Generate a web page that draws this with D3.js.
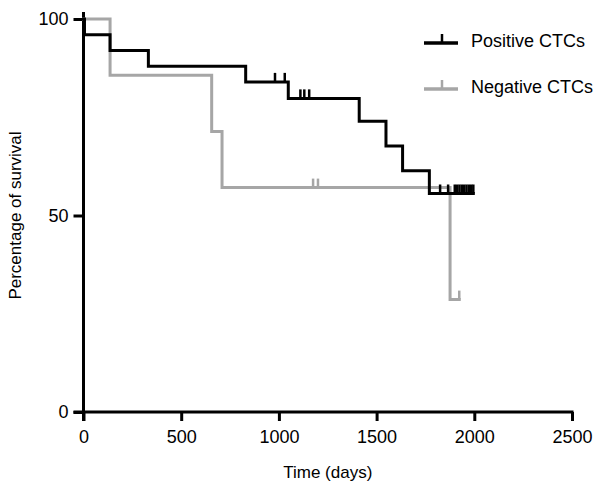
<!DOCTYPE html>
<html>
<head>
<meta charset="utf-8">
<script src="https://cdn.jsdelivr.net/npm/d3@7"></script>
<style>
  html, body { margin: 0; padding: 0; background: #fff; }
  svg { display: block; font-family: "Liberation Sans", Arial, sans-serif; }
</style>
</head>
<body>
<svg id="chart" width="602" height="492"></svg>
<script>
// ---- data ----
const seriesNames = ["Positive CTCs", "Negative CTCs"];
const posTimes  = [0, 5, 136, 332, 830, 1048, 1411, 1548, 1633, 1770, 1995];
const posSurv   = [100, 96, 92, 88, 84, 79.8, 74, 67.7, 61.4, 55.6, 55.6];
const posCensorTimes = [980, 1030, 1110, 1130, 1155, 1825, 1866, 1900, 1912, 1924, 1936, 1948, 1960, 1972, 1984, 1995];
const negTimes  = [0, 136, 656, 709, 1876, 1923];
const negSurv   = [100, 85.7, 71.4, 57.1, 28.6, 28.6];
const negCensorTimes = [1175, 1200, 1923];
const xTicks = [0, 500, 1000, 1500, 2000, 2500];
const yTicks = [0, 50, 100];

const svg = d3.select("#chart");
const x = d3.scaleLinear().domain([0, 2500]).range([83.5, 572]);
const y = d3.scaleLinear().domain([0, 100]).range([412, 19]);

// survival at a time (step function)
function survAt(times, surv, t) {
  let v = surv[0];
  for (let i = 0; i < times.length; i++) { if (times[i] <= t) v = surv[i]; }
  return v;
}

const line = d3.line().x(d => x(d[0])).y(d => y(d[1])).curve(d3.curveStepAfter);

// axes
const xAxis = d3.axisBottom(x).tickValues(xTicks).tickSize(9).tickPadding(9).tickFormat(d3.format("d"));
const yAxis = d3.axisLeft(y).tickValues(yTicks).tickSize(10).tickPadding(5);

const gx = svg.append("g").attr("transform", `translate(0,${y(0)})`).call(xAxis);
const gy = svg.append("g").attr("transform", `translate(${x(0)},0)`).call(yAxis);

[gx, gy].forEach(g => {
  g.select(".domain").remove();
  g.selectAll(".tick line").attr("stroke", "#000").attr("stroke-width", 3);
  g.selectAll(".tick text").attr("fill", "#000").style("font-size", "18px");
});
// axis lines
svg.append("line").attr("x1", x(0)).attr("x2", x(0)).attr("y1", 12).attr("y2", y(0) + 9)
  .attr("stroke", "#000").attr("stroke-width", 3);
svg.append("line").attr("x1", x(0) - 10).attr("x2", x(2500) + 1.5).attr("y1", y(0)).attr("y2", y(0))
  .attr("stroke", "#000").attr("stroke-width", 3);

// axis titles
svg.append("text").attr("x", (x(0) + x(2500)) / 2).attr("y", 478).attr("text-anchor", "middle")
  .style("font-size", "17px").text("Time (days)");
svg.append("text").attr("transform", `translate(21,${(y(0) + y(100)) / 2}) rotate(-90)`)
  .attr("text-anchor", "middle").style("font-size", "17px").text("Percentage of survival");

// series
const series = [
  { name: seriesNames[0], times: posTimes, surv: posSurv, cens: posCensorTimes, color: "#000" },
  { name: seriesNames[1], times: negTimes, surv: negSurv, cens: negCensorTimes, color: "#a6a6a6" }
];

// draw negative first, positive on top
[series[1], series[0]].forEach(s => {
  const pts = s.times.map((t, i) => [t, s.surv[i]]);
  svg.append("path").datum(pts).attr("d", line).attr("fill", "none")
    .attr("stroke", s.color).attr("stroke-width", 3).attr("stroke-linejoin", "miter").attr("stroke-linecap", "square");
  svg.append("g").selectAll("line").data(s.cens).join("line")
    .attr("x1", d => x(d)).attr("x2", d => x(d))
    .attr("y1", d => y(survAt(s.times, s.surv, d)))
    .attr("y2", d => y(survAt(s.times, s.surv, d)) - 9)
    .attr("stroke", s.color).attr("stroke-width", 2.5);
});

// legend
const legendY = [43, 89];
series.forEach((s, i) => {
  const g = svg.append("g").attr("transform", `translate(0,${legendY[i]})`);
  g.append("line").attr("x1", 424).attr("x2", 458).attr("y1", 0).attr("y2", 0)
    .attr("stroke", s.color).attr("stroke-width", 3.5);
  g.append("line").attr("x1", 442).attr("x2", 442).attr("y1", 0).attr("y2", -9)
    .attr("stroke", s.color).attr("stroke-width", 2.5);
  g.append("text").attr("x", 471).attr("y", 4).style("font-size", "18px").text(s.name);
});
</script>
</body>
</html>
